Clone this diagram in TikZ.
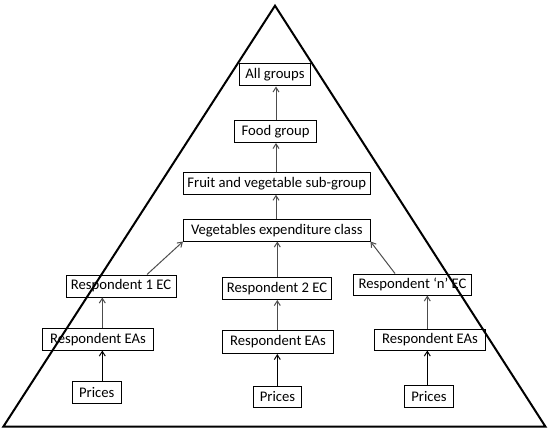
\documentclass[tikz,border=0pt]{standalone}
\usepackage{fontspec}
\setmainfont{Carlito}
\usetikzlibrary{arrows.meta}
\tikzset{
  bx/.style 2 args={draw, line width=0.75pt, inner sep=0pt, font=\fontsize{11pt}{13pt}\selectfont,
    minimum width=#1*0.75pt, minimum height=#2*0.75pt},
  arr/.style={draw=black!70, line width=0.75pt, -{Straight Barb[length=3.5pt,width=4.5pt]}},
  arrk/.style={arr, draw=black},
  tri/.style={line width=1.5pt, line join=miter}
}
\begin{document}
\begin{tikzpicture}[x=0.75pt, y=-0.75pt]
\useasboundingbox (0,0) rectangle (549,431);
\draw[tri] (275,5.7) -- (545.5,426.7) -- (3.3,426.7) -- cycle;

\node[bx={71}{22}] (ag) at (275,75) {All groups};
\node[bx={82}{22}] (fg) at (275.5,131.5) {Food group};
\node[bx={186.5}{21.5}] (fv) at (276.75,183.5) {Fruit and vegetable sub-group};
\node[bx={186.5}{21.5}] (vc) at (276.75,230.25) {Vegetables expenditure class};

\node[bx={110}{22}] (r1) at (121,286) {Respondent 1 EC};
\node[bx={109}{22}] (r2) at (277,288.5) {Respondent 2 EC};
\node[bx={118}{21}] (rn) at (412.5,284.5) {Respondent ‘n’ EC};

\node[bx={111}{21.5}] (e1) at (98,339.25) {Respondent EAs};
\node[bx={111}{23}] (e2) at (278,342) {Respondent EAs};
\node[bx={111}{21}] (en) at (430,339.5) {Respondent EAs};

\node[bx={48.5}{22}] (p1) at (96.75,392.5) {Prices};
\node[bx={48}{21.5}] (p2) at (277.5,396.75) {Prices};
\node[bx={49}{21.5}] (pn) at (429,396.25) {Prices};

\coordinate (cm) at (276,0);
\coordinate (c2) at (277.3,0);
\coordinate (c1) at (102.3,0);
\coordinate (cn) at (427.3,0);
\coordinate (d1) at (147,0);
\coordinate (dn) at (395,0);

\draw[arr] (fg.north -| cm) -- (ag.south -| cm);
\draw[arr] (fv.north -| cm) -- (fg.south -| cm);
\draw[arr] (vc.north -| cm) -- (fv.south -| cm);
\draw[arr] (r2.north -| c2) -- (vc.south -| c2);
\draw[arr] (r1.north -| d1) -- (vc.south west);
\draw[arr] (rn.north -| dn) -- (vc.south east);

\draw[arr] (e1.north -| c1) -- (r1.south -| c1);
\draw[arr] (e2.north -| c2) -- (r2.south -| c2);
\draw[arr] (en.north -| cn) -- (rn.south -| cn);
\draw[arrk] (p1.north -| c1) -- (e1.south -| c1);
\draw[arrk] (p2.north -| c2) -- (e2.south -| c2);
\draw[arrk] (pn.north -| cn) -- (en.south -| cn);
\end{tikzpicture}
\end{document}
